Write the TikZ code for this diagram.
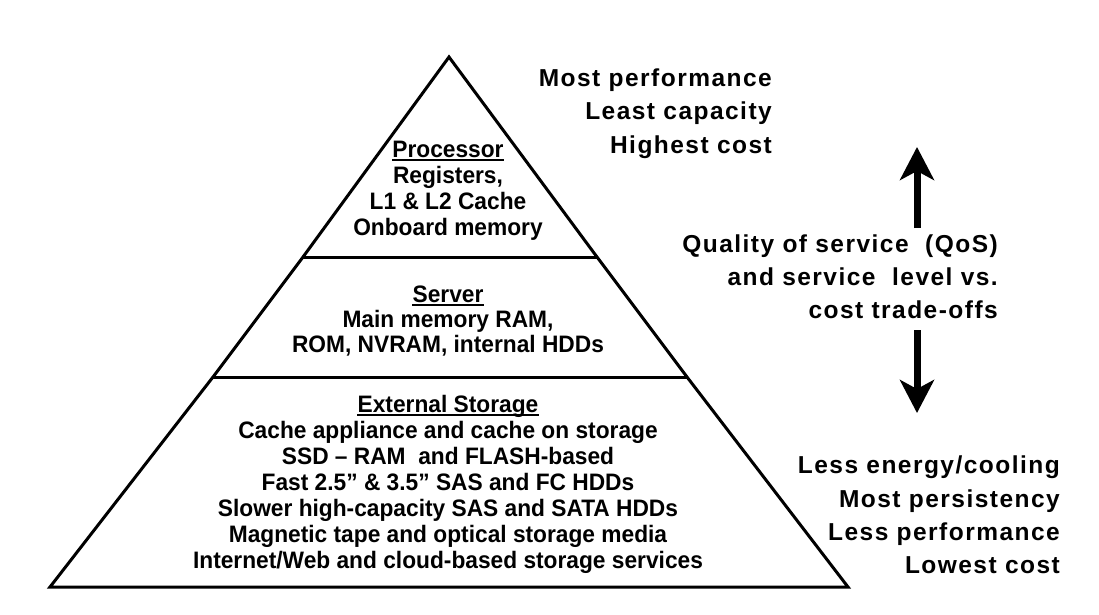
\documentclass[tikz,border=0pt]{standalone}
\usepackage{fontspec}
\setmainfont{Liberation Sans}
\newfontfamily\pyrfont{Liberation Sans}[FakeStretch=0.955]
\newfontfamily\sidefont{Liberation Sans}[LetterSpace=6]
\usetikzlibrary{arrows.meta}
\begin{document}
\begin{tikzpicture}[x=1pt,y=-1pt,
  outline/.style={line width=3pt,line join=miter},
  pyr/.style={inner sep=0pt,anchor=base,font=\pyrfont\bfseries\fontsize{23.8}{26}\selectfont},
  side/.style={inner sep=0pt,anchor=base east,font=\sidefont\bfseries\fontsize{24.5}{33}\selectfont},
  uline/.style={line width=1.8pt},
  bigarrow/.style={line width=7pt,-{Stealth[length=33pt,width=34pt,inset=9pt]}}]
\useasboundingbox (0,0) rectangle (1099,615);
% pyramid outline
\coordinate (A) at (449,57);
\coordinate (B1) at (303,257);
\coordinate (B2) at (597,257);
\coordinate (C1) at (213,377);
\coordinate (C2) at (687,377);
\coordinate (D1) at (50,587);
\coordinate (D2) at (848,587);
\draw[outline] (A) -- (B2) -- (C2) -- (D2) -- (D1) -- (C1) -- (B1) -- cycle;
\draw[outline] (B1) -- (B2);
\draw[outline] (C1) -- (C2);
% processor
\node[pyr] (p0) at (448,157) {Processor};
\node[pyr] (p1) at (448,183) {Registers,};
\node[pyr] (p2) at (448,209) {L1 \& L2 Cache};
\node[pyr] (p3) at (448,235) {Onboard memory};
\draw[uline] ([yshift=-3pt]p0.base west) -- ([yshift=-3pt]p0.base east);
% server
\node[pyr] (s0) at (448,302) {Server};
\node[pyr] (s1) at (448,327) {Main memory RAM,};
\node[pyr] (s2) at (448,352) {ROM, NVRAM, internal HDDs};
\draw[uline] ([yshift=-3pt]s0.base west) -- ([yshift=-3pt]s0.base east);
% external storage
\node[pyr] (e0) at (448,412) {External Storage};
\node[pyr] (e1) at (448,438) {Cache appliance and cache on storage};
\node[pyr] (e2) at (448,464) {SSD – RAM\ \ and FLASH-based};
\node[pyr] (e3) at (448,490) {Fast 2.5” \& 3.5” SAS and FC HDDs};
\node[pyr] (e4) at (448,516) {Slower high-capacity SAS and SATA HDDs};
\node[pyr] (e5) at (448,542) {Magnetic tape and optical storage media};
\node[pyr] (e6) at (448,568) {Internet/Web and cloud-based storage services};
\draw[uline] ([yshift=-3pt]e0.base west) -- ([yshift=-3pt]e0.base east);
% right top
\node[side] (t1) at (772,87) {Most performance};
\node[side] (t2) at (772,120) {Least capacity};
\node[side] (t3) at (772,153) {Highest cost};
% QoS
\node[side] (q1) at (998,252) {Quality of service\ \ (QoS)};
\node[side] (q2) at (998,285) {and service\ \ level vs.};
\node[side] (q3) at (998,318) {cost trade-offs};
% bottom right
\node[side] (b1) at (1060,473) {Less energy/cooling};
\node[side] (b2) at (1060,507) {Most persistency};
\node[side] (b3) at (1060,540) {Less performance};
\node[side] (b4) at (1060,573) {Lowest cost};
% arrows
\coordinate (upS) at (917,228);
\coordinate (upT) at (917,147);
\coordinate (dnS) at (917,330);
\coordinate (dnT) at (917,413);
\draw[bigarrow] (upS) -- (upT);
\draw[bigarrow] (dnS) -- (dnT);
\end{tikzpicture}
\end{document}
